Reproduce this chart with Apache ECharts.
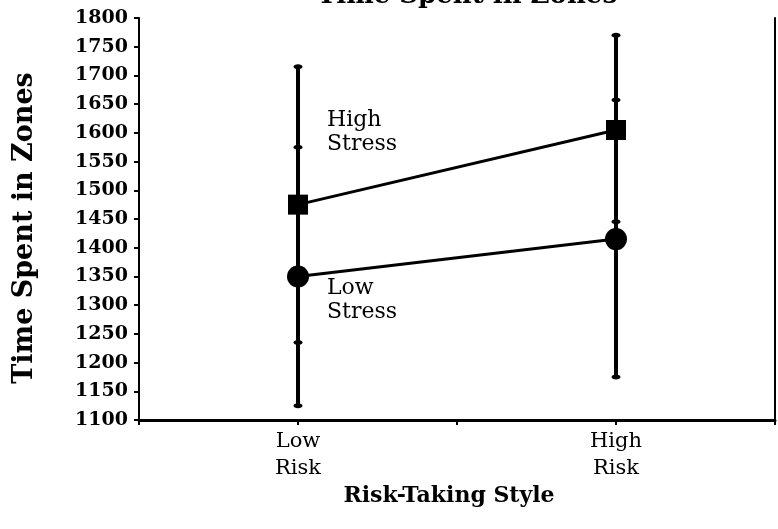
<!DOCTYPE html>
<html>
<head>
<meta charset="utf-8">
<script src="https://cdn.jsdelivr.net/npm/echarts@6/dist/echarts.min.js"></script>
<style>
  html, body { margin: 0; padding: 0; background: #fff; }
  #chart { width: 778px; height: 529px; }
</style>
</head>
<body>
<div id="chart"></div>
<script>
// ---- data ----
const xTickLabels = ['', 'Low\nRisk', '', 'High\nRisk', ''];
const highStressMean = [null, 1475, null, 1605, null];
const highStressLow  = [null, 1235, null, 1445, null];
const highStressHigh = [null, 1715, null, 1770, null];
const lowStressMean  = [null, 1350, null, 1415, null];
const lowStressLow   = [null, 1125, null, 1175, null];
const lowStressHigh  = [null, 1575, null, 1657, null];
const yMin = 1100, yMax = 1800, yStep = 50;
const titleText = 'Time Spent in Zones';
const yAxisName = 'Time Spent in Zones';
const xAxisName = 'Risk-Taking Style';
const highLabel = 'High\nStress';
const lowLabel = 'Low\nStress';

const FONT = 'DejaVu Serif';

function errData(lo, hi) {
  const out = [];
  lo.forEach((v, i) => { if (v != null) out.push([i, v, hi[i]]); });
  return out;
}

function renderErr(params, api) {
  const x = api.value(0);
  const pLo = api.coord([x, api.value(1)]);
  const pHi = api.coord([x, api.value(2)]);
  return {
    type: 'group',
    children: [
      { type: 'line', shape: { x1: pLo[0], y1: pLo[1], x2: pHi[0], y2: pHi[1] },
        style: { stroke: '#000', lineWidth: 4 } },
      { type: 'ellipse', shape: { cx: pLo[0], cy: pLo[1], rx: 4.5, ry: 2.5 }, style: { fill: '#000' } },
      { type: 'ellipse', shape: { cx: pHi[0], cy: pHi[1], rx: 4.5, ry: 2.5 }, style: { fill: '#000' } }
    ]
  };
}

const chart = echarts.init(document.getElementById('chart'), null, { renderer: 'canvas' });
chart.setOption({
  animation: false,
  backgroundColor: '#fff',
  grid: { left: 139, right: 2, top: 18, bottom: 109, containLabel: false },
  graphic: [
    { type: 'text', style: {
        text: titleText, x: 467, y: 9, textAlign: 'center', textVerticalAlign: 'bottom',
        font: 'bold 26px "DejaVu Serif"', fill: '#000' } },
    { type: 'text', x: 25, y: 228, rotation: Math.PI / 2, style: {
        text: yAxisName, x: 0, y: 0, textAlign: 'center', textVerticalAlign: 'middle',
        font: 'bold 27px "DejaVu Serif"', fill: '#000' } },
    { type: 'text', style: {
        text: xAxisName, x: 449, y: 496, textAlign: 'center', textVerticalAlign: 'middle',
        font: 'bold 22px "DejaVu Serif"', fill: '#000' } },
    { type: 'text', style: { text: highLabel, x: 327, y: 108, font: '22px "DejaVu Serif"',
        lineHeight: 24, fill: '#000' } },
    { type: 'text', style: { text: lowLabel, x: 327, y: 276, font: '22px "DejaVu Serif"',
        lineHeight: 24, fill: '#000' } }
  ],
  xAxis: {
    type: 'category',
    data: xTickLabels,
    boundaryGap: false,
    axisLine: { lineStyle: { color: '#000', width: 3 } },
    axisTick: { show: true, inside: false, length: 5, alignWithLabel: true, lineStyle: { color: '#000', width: 2 } },
    axisLabel: { fontFamily: FONT, fontSize: 21, color: '#000', lineHeight: 27, margin: 8, interval: 0 },
    splitLine: { show: false }
  },
  yAxis: [
    {
      type: 'value', min: yMin, max: yMax, interval: yStep,
      axisLine: { show: true, lineStyle: { color: '#000', width: 2 } },
      axisTick: { show: true, length: 5, lineStyle: { color: '#000', width: 2 } },
      axisLabel: { fontFamily: FONT, fontWeight: 'bold', fontSize: 19, color: '#000', margin: 11,
        formatter: v => String(v) },
      splitLine: { show: false }
    },
    {
      type: 'value', min: yMin, max: yMax, interval: yStep, position: 'right',
      axisLine: { show: true, lineStyle: { color: '#000', width: 2 } },
      axisTick: { show: false }, axisLabel: { show: false }, splitLine: { show: false }
    }
  ],
  series: [
    { type: 'custom', renderItem: renderErr, data: errData(highStressLow, highStressHigh), z: 1 },
    { type: 'custom', renderItem: renderErr, data: errData(lowStressLow, lowStressHigh), z: 1 },
    { type: 'line', data: highStressMean, connectNulls: true, symbol: 'rect', symbolSize: 20,
      itemStyle: { color: '#000' }, lineStyle: { color: '#000', width: 3 }, z: 3 },
    { type: 'line', data: lowStressMean, connectNulls: true, symbol: 'circle', symbolSize: 22,
      itemStyle: { color: '#000' }, lineStyle: { color: '#000', width: 3 }, z: 3 }
  ]
});
</script>
</body>
</html>
